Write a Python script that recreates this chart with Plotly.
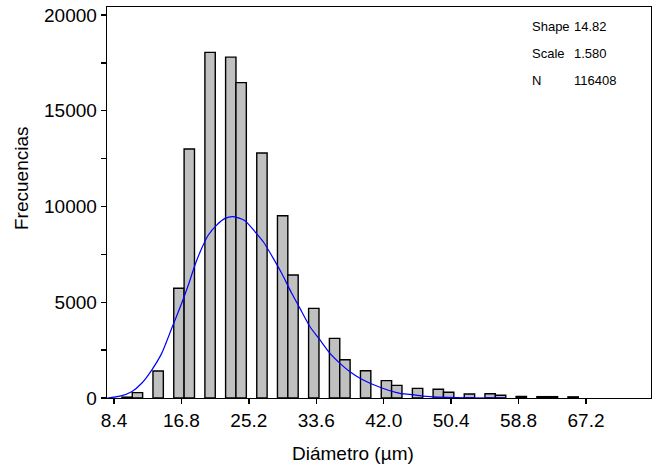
import plotly.graph_objects as go

# Histogram bins (bin centres in µm) and counts
bin_width = 1.2925
bin_centers = [10.03, 11.32, 13.90, 16.49, 17.78, 20.37, 22.95, 24.24, 26.83,
               29.41, 30.70, 33.29, 35.88, 37.17, 39.75, 42.34, 43.63, 46.22,
               48.80, 50.09, 52.68, 55.26, 56.56, 59.14, 61.73, 63.02, 65.60]
counts = [45, 280, 1410, 5730, 13000, 18050, 17800, 16470, 12790,
          9520, 6420, 4680, 3115, 2000, 1425, 905, 660, 505,
          455, 300, 210, 225, 140, 80, 70, 70, 60]

# Fitted distribution curve
curve_x = [7.57, 9.15, 10.60, 11.85, 13.10, 14.34, 15.59, 16.83, 17.66, 18.49,
           19.33, 20.15, 21.19, 22.23, 23.26, 24.72, 25.97, 27.00, 28.25, 29.29,
           30.54, 31.57, 32.82, 34.06, 35.31, 36.55, 37.80, 39.05, 40.29, 41.54,
           42.78, 44.03, 45.28, 46.90, 51.13, 57.24]
curve_y = [0, 100, 330, 770, 1460, 2330, 3640, 4945, 5900, 6945,
           7820, 8510, 9030, 9380, 9470, 9260, 8680, 8160, 7290, 6510,
           5470, 4680, 3720, 3030, 2330, 1810, 1370, 1030, 770, 560,
           380, 245, 190, 100, 15, 0]

x_ticks = [8.4, 16.8, 25.2, 33.6, 42.0, 50.4, 58.8, 67.2]
x_tick_labels = ["8.4", "16.8", "25.2", "33.6", "42.0", "50.4", "58.8", "67.2"]
y_ticks = [0, 5000, 10000, 15000, 20000]
y_tick_labels = ["0", "5000", "10000", "15000", "20000"]

stat_names = ["Shape", "Scale", "N"]
stat_values = ["14.82", "1.580", "116408"]

FONT = "Liberation Sans"

fig = go.Figure()
fig.add_trace(go.Bar(
    x=bin_centers, y=counts, width=[bin_width] * len(counts),
    marker=dict(color="#c0c0c0", line=dict(color="#000000", width=1.4)),
    showlegend=False, hoverinfo="skip",
))
fig.add_trace(go.Scatter(
    x=curve_x, y=curve_y, mode="lines",
    line=dict(color="#0000ff", width=1.2, shape="spline", smoothing=0.6),
    showlegend=False, hoverinfo="skip",
))

fig.update_layout(
    width=655, height=468,
    margin=dict(l=107, r=4, t=7, b=70, autoexpand=False),
    paper_bgcolor="white", plot_bgcolor="white",
    bargap=0,
    font=dict(family=FONT, size=19, color="#000000"),
)
fig.update_xaxes(
    range=[7.528, 75.30], tickvals=x_ticks, ticktext=x_tick_labels,
    showgrid=False, zeroline=False, automargin=False,
    showline=True, linecolor="#000000", linewidth=1.3, mirror=True,
    ticks="outside", ticklen=5, tickwidth=1.3, tickcolor="#000000",
    tickfont=dict(family=FONT, size=19),
)
fig.update_yaxes(
    range=[0, 20418], tickvals=y_ticks, ticktext=y_tick_labels,
    showgrid=False, zeroline=False, automargin=False,
    showline=True, linecolor="#000000", linewidth=1.3, mirror=True,
    ticks="outside", ticklen=5, tickwidth=1.3, tickcolor="#000000",
    minor=dict(dtick=2500, tick0=0, ticks="outside", ticklen=5, tickwidth=1.3,
               tickcolor="#000000", showgrid=False),
    tickfont=dict(family=FONT, size=19),
)

plot_l, plot_r, plot_t, plot_b = 107, 651, 7, 398
def px(xp):
    return (xp - plot_l) / (plot_r - plot_l)
def py(yp):
    return (plot_b - yp) / (plot_b - plot_t)

final_ann = [
    dict(text="Frecuencias", x=px(21), y=py(178), xref="paper", yref="paper",
         xanchor="center", yanchor="middle", textangle=-90, showarrow=False,
         font=dict(family=FONT, size=19)),
    dict(text="Diámetro (µm)", x=px(353), y=py(453), xref="paper", yref="paper",
         xanchor="center", yanchor="middle", showarrow=False,
         font=dict(family=FONT, size=19)),
]

row_y = [27, 53.5, 80]
for name, val, yy in zip(stat_names, stat_values, row_y):
    final_ann.append(dict(text=name, x=px(530), y=py(yy), xref="paper", yref="paper",
                          xanchor="left", yanchor="middle", showarrow=False,
                          font=dict(family=FONT, size=13)))
    final_ann.append(dict(text=val, x=px(572), y=py(yy), xref="paper", yref="paper",
                          xanchor="left", yanchor="middle", showarrow=False,
                          font=dict(family=FONT, size=13)))

fig.update_layout(annotations=final_ann)
fig.write_html("out.html", config={"displayModeBar": False, "staticPlot": True},
               post_script="document.body.style.margin='0px';document.body.style.overflow='hidden';")
